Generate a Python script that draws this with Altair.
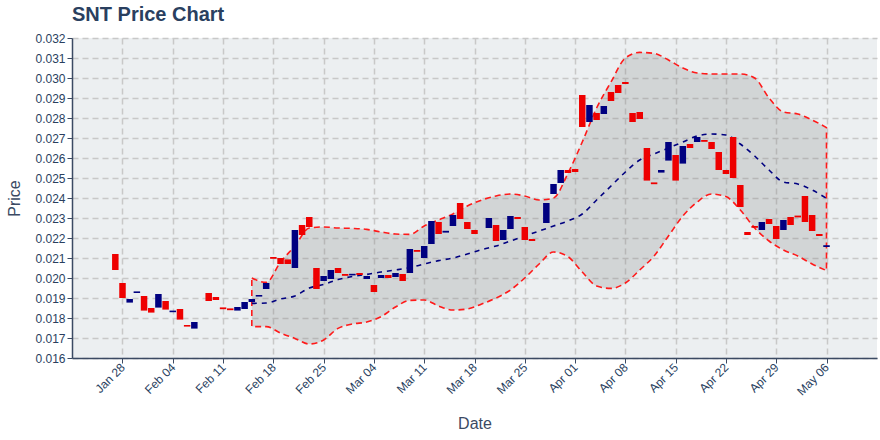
import altair as alt
import pandas as pd

# ---- candle data (daily open / close) ----
candle_dates = [
    "2019-01-27", "2019-01-28", "2019-01-29", "2019-01-30", "2019-01-31",
    "2019-02-01", "2019-02-02", "2019-02-03", "2019-02-04", "2019-02-05",
    "2019-02-06", "2019-02-07", "2019-02-09", "2019-02-10", "2019-02-11",
    "2019-02-12", "2019-02-13", "2019-02-14", "2019-02-15", "2019-02-16",
    "2019-02-17", "2019-02-18", "2019-02-19", "2019-02-20", "2019-02-21",
    "2019-02-22", "2019-02-23", "2019-02-24", "2019-02-25", "2019-02-26",
    "2019-02-27", "2019-02-28", "2019-03-01", "2019-03-02", "2019-03-03",
    "2019-03-04", "2019-03-05", "2019-03-06", "2019-03-07", "2019-03-08",
    "2019-03-09", "2019-03-10", "2019-03-11", "2019-03-12", "2019-03-13",
    "2019-03-14", "2019-03-15", "2019-03-16", "2019-03-17", "2019-03-18",
    "2019-03-20", "2019-03-21", "2019-03-22", "2019-03-23", "2019-03-24",
    "2019-03-25", "2019-03-26", "2019-03-28", "2019-03-29", "2019-03-30",
    "2019-03-31", "2019-04-01", "2019-04-02", "2019-04-03", "2019-04-04",
    "2019-04-05", "2019-04-06", "2019-04-07", "2019-04-08", "2019-04-09",
    "2019-04-10", "2019-04-11", "2019-04-12", "2019-04-13", "2019-04-14",
    "2019-04-15", "2019-04-16", "2019-04-17", "2019-04-18", "2019-04-19",
    "2019-04-20", "2019-04-21", "2019-04-22", "2019-04-23", "2019-04-24",
    "2019-04-25", "2019-04-26", "2019-04-27", "2019-04-28", "2019-04-29",
    "2019-04-30", "2019-05-01", "2019-05-02", "2019-05-03", "2019-05-04",
    "2019-05-05", "2019-05-06",
]
opens = [
    0.02120, 0.01975, 0.01877, 0.01925, 0.01910,
    0.01850, 0.01852, 0.01885, 0.01829, 0.01845,
    0.01765, 0.01747, 0.01925, 0.01905, 0.01853,
    0.01848, 0.01837, 0.01845, 0.01880, 0.01907,
    0.01945, 0.02105, 0.02100, 0.02093, 0.02050,
    0.02265, 0.02305, 0.02050, 0.01985, 0.01995,
    0.02050, 0.02020, 0.02013, 0.02025, 0.01995,
    0.01965, 0.02000, 0.02015, 0.02005, 0.02020,
    0.02025, 0.02140, 0.02100, 0.02170, 0.02280,
    0.02227, 0.02260, 0.02375, 0.02280, 0.02240,
    0.02250, 0.02265, 0.02190, 0.02245, 0.02305,
    0.02255, 0.02195, 0.02275, 0.02420, 0.02475,
    0.02540, 0.02545, 0.02915, 0.02780, 0.02825,
    0.02820, 0.02930, 0.02965, 0.02980, 0.02825,
    0.02830, 0.02650, 0.02478, 0.02527, 0.02587,
    0.02615, 0.02572, 0.02670, 0.02680, 0.02690,
    0.02680, 0.02630, 0.02540, 0.02705, 0.02465,
    0.02230, 0.02260, 0.02240, 0.02295, 0.02260,
    0.02240, 0.02305, 0.02312, 0.02410, 0.02315,
    0.02220, 0.02155,
]
closes = [
    0.02040, 0.01900, 0.01895, 0.01933, 0.01837,
    0.01827, 0.01920, 0.01842, 0.01837, 0.01792,
    0.01757, 0.01780, 0.01885, 0.01890, 0.01844,
    0.01839, 0.01855, 0.01880, 0.01895, 0.01915,
    0.01975, 0.02096, 0.02070, 0.02070, 0.02240,
    0.02215, 0.02255, 0.01945, 0.02010, 0.02040,
    0.02025, 0.02011, 0.02021, 0.02015, 0.02010,
    0.01930, 0.02015, 0.02000, 0.02025, 0.01985,
    0.02145, 0.02131, 0.02160, 0.02285, 0.02220,
    0.02236, 0.02315, 0.02295, 0.02245, 0.02220,
    0.02300, 0.02185, 0.02240, 0.02310, 0.02295,
    0.02190, 0.02185, 0.02375, 0.02470, 0.02540,
    0.02525, 0.02530, 0.02755, 0.02865, 0.02790,
    0.02860, 0.02885, 0.02925, 0.02970, 0.02780,
    0.02795, 0.02487, 0.02469, 0.02540, 0.02680,
    0.02487, 0.02660, 0.02650, 0.02705, 0.02681,
    0.02645, 0.02540, 0.02520, 0.02500, 0.02355,
    0.02215, 0.02251, 0.02280, 0.02270, 0.02195,
    0.02290, 0.02265, 0.02303, 0.02280, 0.02235,
    0.02210, 0.02164,
]

# ---- Bollinger band readings ----
band_dates = [
    "2019-02-15", "2019-02-17", "2019-02-19", "2019-02-21", "2019-02-23",
    "2019-02-25", "2019-02-27", "2019-03-01", "2019-03-03", "2019-03-05",
    "2019-03-07", "2019-03-09", "2019-03-11", "2019-03-13", "2019-03-15",
    "2019-03-17", "2019-03-19", "2019-03-21", "2019-03-23", "2019-03-25",
    "2019-03-27", "2019-03-29", "2019-03-31", "2019-04-02", "2019-04-04",
    "2019-04-06", "2019-04-08", "2019-04-10", "2019-04-12", "2019-04-14",
    "2019-04-16", "2019-04-18", "2019-04-20", "2019-04-22", "2019-04-24",
    "2019-04-26", "2019-04-28", "2019-04-30", "2019-05-02", "2019-05-04",
    "2019-05-06",
]
upper = [
    0.02000, 0.01978, 0.02080, 0.02160, 0.02250,
    0.02255, 0.02250, 0.02248, 0.02243, 0.02230,
    0.02220, 0.02218, 0.02260, 0.02290, 0.02320,
    0.02360, 0.02390, 0.02410, 0.02420, 0.02410,
    0.02390, 0.02400, 0.02523, 0.02680, 0.02850,
    0.02980, 0.03100, 0.03128, 0.03123, 0.03090,
    0.03050, 0.03025, 0.03020, 0.03020, 0.03020,
    0.03000, 0.02900, 0.02830, 0.02820, 0.02790,
    0.02752,
]
middle = [
    0.01873, 0.01875, 0.01895, 0.01910, 0.01950,
    0.01968, 0.01992, 0.02008, 0.02018, 0.02030,
    0.02040, 0.02052, 0.02070, 0.02087, 0.02100,
    0.02120, 0.02142, 0.02160, 0.02185, 0.02210,
    0.02235, 0.02260, 0.02285, 0.02320, 0.02390,
    0.02460, 0.02530, 0.02590, 0.02620, 0.02650,
    0.02680, 0.02710, 0.02720, 0.02715, 0.02670,
    0.02610, 0.02540, 0.02480, 0.02470, 0.02440,
    0.02398,
]
lower = [
    0.01757, 0.01757, 0.01725, 0.01698, 0.01670,
    0.01690, 0.01748, 0.01770, 0.01780, 0.01807,
    0.01855, 0.01888, 0.01890, 0.01860, 0.01840,
    0.01845, 0.01870, 0.01900, 0.01940, 0.02000,
    0.02070, 0.02130, 0.02107, 0.02030, 0.01960,
    0.01948, 0.01975, 0.02040, 0.02110, 0.02210,
    0.02310, 0.02380, 0.02420, 0.02407, 0.02340,
    0.02250, 0.02185, 0.02140, 0.02110, 0.02070,
    0.02037,
]

y_ticks = [0.016, 0.017, 0.018, 0.019, 0.020, 0.021, 0.022, 0.023, 0.024,
           0.025, 0.026, 0.027, 0.028, 0.029, 0.030, 0.031, 0.032]
x_tick_days = [(1, 28), (2, 4), (2, 11), (2, 18), (2, 25), (3, 4), (3, 11),
               (3, 18), (3, 25), (4, 1), (4, 8), (4, 15), (4, 22), (4, 29), (5, 6)]

candles = pd.DataFrame({"date": candle_dates, "open": opens, "close": closes})
candles["dir"] = ["down" if o > c else "up" for o, c in zip(opens, closes)]
band = pd.DataFrame({"date": band_dates, "upper": upper, "middle": middle, "lower": lower})

FONT = "Liberation Sans"
TXT = "#2a3f5f"

x_scale = alt.Scale(
    type="utc",
    domain=[alt.DateTime(year=2019, month=1, date=21, hours=16, utc=True),
            alt.DateTime(year=2019, month=5, date=12, hours=8, utc=True)],
)
y_scale = alt.Scale(domain=[0.016, 0.032], nice=False, zero=False)

x_axis = alt.Axis(
    title="Date",
    values=[alt.DateTime(year=2019, month=m, date=d, utc=True) for m, d in x_tick_days],
    format="%b %d",
    labelAngle=-45,
    labelAlign="right",
    labelBaseline="middle",
    labelOverlap=False,
    titlePadding=18,
)
y_axis = alt.Axis(title="Price", values=y_ticks, format=".3f", labelOverlap=False,
                  tickCount=17, titlePadding=12)


def X():
    return alt.X("date:T", scale=x_scale, axis=x_axis, title="Date")


area = alt.Chart(band).mark_area(
    interpolate="monotone",
    fill="#808080",
    fillOpacity=0.24,
    stroke="#ff1a1a",
    strokeWidth=1.6,
    strokeDash=[6, 4],
).encode(
    x=X(),
    y=alt.Y("upper:Q", scale=y_scale, axis=y_axis, title="Price"),
    y2="lower:Q",
)

mid = alt.Chart(band).mark_line(
    interpolate="monotone", color="#000080", strokeWidth=1.6, strokeDash=[5, 5]
).encode(
    x=X(),
    y=alt.Y("middle:Q", scale=y_scale, axis=y_axis, title="Price"),
)

bars = alt.Chart(candles).mark_bar(size=6.5).encode(
    x=X(),
    y=alt.Y("open:Q", scale=y_scale, axis=y_axis, title="Price"),
    y2="close:Q",
    color=alt.Color("dir:N", scale=alt.Scale(domain=["up", "down"], range=["#000080", "#ee0000"]), legend=None),
)

chart = alt.layer(area, mid, bars).properties(
    width=805,
    height=320,
    padding={"left": 72, "top": 38, "right": 3, "bottom": 82},
    autosize=alt.AutoSizeParams(type="none"),
    background="white",
    title=alt.TitleParams(
        "SNT Price Chart", anchor="start", frame="group", font=FONT, fontSize=20,
        fontWeight="bold", color=TXT, offset=7,
    ),
).configure_view(
    fill="#eceff1", stroke=None,
).configure_axis(
    labelFont=FONT, labelFontSize=12, labelColor=TXT,
    titleFont=FONT, titleFontSize=16, titleColor="#3b4a63", titleFontWeight="normal",
    gridColor="#c8c8c8", gridDash=[6, 4], gridWidth=1.5,
    domainColor="#3b4a63", domainWidth=1.5,
    tickColor="#3b4a63", tickSize=5,
)

chart.save("out.html", embed_options={"renderer": "svg", "actions": False})
